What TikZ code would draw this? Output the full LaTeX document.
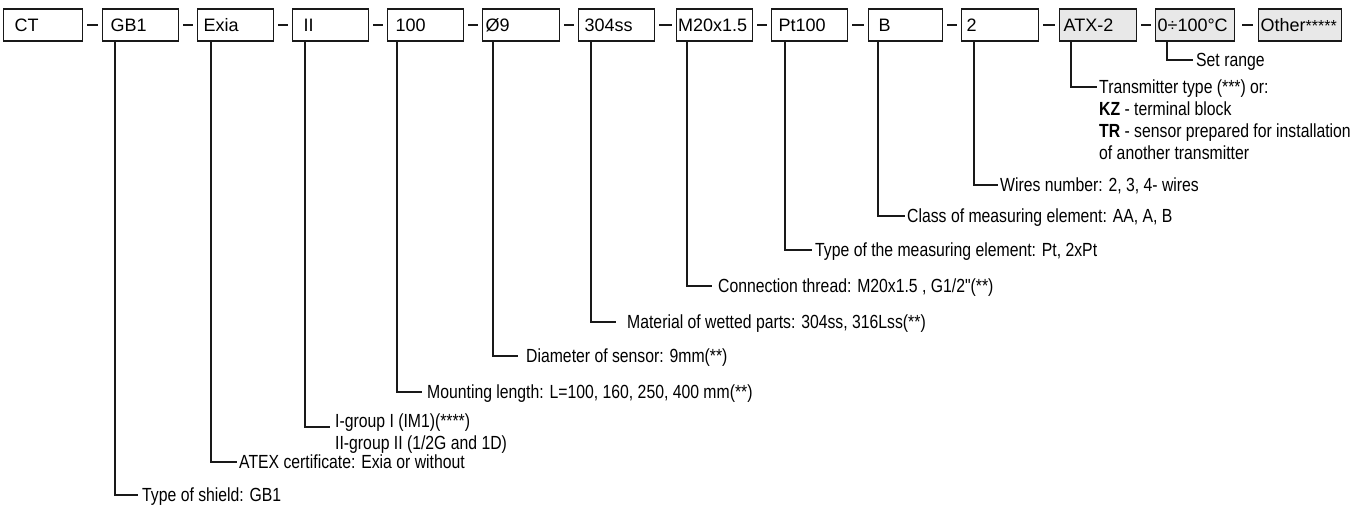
\documentclass[tikz,border=0pt]{standalone}
\usepackage{fontspec}
\setmainfont{Liberation Sans}
\newfontfamily\labfont{Liberation Sans}[FakeStretch=0.83]
\begin{document}
\begin{tikzpicture}[x=1pt,y=-1pt,
  box/.style={draw=black!90, line width=1.2pt, anchor=west, minimum height=32pt,
    inner ysep=0pt, align=left, text height=13.5pt, text depth=0.5pt,
    font=\fontsize{18}{21}\selectfont, text=black},
  gbox/.style={box, fill=black!9},
  pad/.code 2 args={\pgfmathsetmacro\padtw{#1-2*#2}%
    \edef\padnext{\noexpand\tikzset{inner xsep=#2pt,text width=\padtw pt}}\padnext},
  dashc/.style={line width=1.3pt, draw=black!90, shorten <=4pt, shorten >=4pt},
  conn/.style={line width=1.6pt, draw=black!90},
  lab/.style={font=\labfont\fontsize{19}{22}\selectfont, anchor=west, inner ysep=0pt,
    text height=13.5pt, text depth=0.5pt, text=black},
  mlab/.style={font=\labfont\fontsize{19}{22}\selectfont, anchor=north west,
    inner ysep=0pt, align=left, text=black}]
\useasboundingbox (0,0) rectangle (1366,504);

% code boxes
\node[box, pad={79}{11}] (ct) at (3,25) {CT};
\node[box, pad={76}{8}] (gb1) at (102,25) {GB1};
\node[box, pad={76}{6}] (exia) at (197,25) {Exia};
\node[box, pad={76}{11}] (ii) at (292,25) {II};
\node[box, pad={76}{8}] (len) at (387,25) {100};
\node[box, pad={77}{3}] (dia) at (482,25) {Ø9};
\node[box, pad={76}{6}] (mat) at (578,25) {304ss};
\node[box, pad={76}{1.5}] (thr) at (676,25) {M20x1.5};
\node[box, pad={76}{7}] (pt) at (771,25) {Pt100};
\node[box, pad={74}{10}] (cls) at (868,25) {B};
\node[box, pad={77}{5}] (wir) at (961,25) {2};
\node[gbox, pad={77}{4}] (atx) at (1059,25) {ATX-2};
\node[gbox, pad={79}{2}] (rng) at (1155,25) {0÷100°C};
\node[gbox, pad={83}{2}] (oth) at (1258,25) {Other{\fontsize{16}{18}\selectfont*****}};

% dashes between boxes
\draw[dashc] (ct.east) -- (gb1.west);
\draw[dashc] (gb1.east) -- (exia.west);
\draw[dashc] (exia.east) -- (ii.west);
\draw[dashc] (ii.east) -- (len.west);
\draw[dashc] (len.east) -- (dia.west);
\draw[dashc] (dia.east) -- (mat.west);
\draw[dashc] (mat.east) -- (thr.west);
\draw[dashc] (thr.east) -- (pt.west);
\draw[dashc] (pt.east) -- (cls.west);
\draw[dashc] (cls.east) -- (wir.west);
\draw[dashc] (wir.east) -- (atx.west);
\draw[dashc] (atx.east) -- (rng.west);
\draw[dashc, shorten <=7pt, shorten >=5pt] (rng.east) -- (oth.west);

% labels
\node[lab, inner xsep=3pt] (lrng) at (1193,60) {Set range};
\node[mlab, inner xsep=2pt] (latx) at (1097,80) {Transmitter type (***) or:\\\textbf{KZ} - terminal block\\\textbf{TR} - sensor prepared for installation\\of another transmitter};
\node[lab, inner xsep=2pt] (lwir) at (998,185) {Wires number: 2, 3, 4- wires};
\node[lab, inner xsep=2pt] (lcls) at (905,216) {Class of measuring element: AA, A, B};
\node[lab, inner xsep=3pt] (lpt) at (812,250) {Type of the measuring element: Pt, 2xPt};
\node[lab, inner xsep=6pt] (lthr) at (712,286) {Connection thread: M20x1.5 , G1/2"(**)};
\node[lab, inner xsep=11pt] (lmat) at (616,322) {Material of wetted parts: 304ss, 316Lss(**)};
\node[lab, inner xsep=8pt] (ldia) at (518,356) {Diameter of sensor: 9mm(**)};
\node[lab, inner xsep=5pt] (llen) at (422,392) {Mounting length: L=100, 160, 250, 400 mm(**)};
\node[mlab, inner xsep=5pt] (lii) at (330,414) {I-group I (IM1)(****)\\II-group II (1/2G and 1D)};
\node[lab, inner xsep=2pt] (lexia) at (237,462) {ATEX certificate: Exia or without};
\node[lab, inner xsep=4pt] (lgb1) at (138,495) {Type of shield: GB1};

% connectors
\draw[conn] ([xshift=12pt]rng.south west) |- (lrng.west);
\draw[conn] ([xshift=12pt]atx.south west) |- ([yshift=-7pt]latx.north west);
\draw[conn] ([xshift=13pt]wir.south west) |- (lwir.west);
\draw[conn] ([xshift=10pt]cls.south west) |- (lcls.west);
\draw[conn] ([xshift=14pt]pt.south west) |- (lpt.west);
\draw[conn] ([xshift=11pt]thr.south west) |- (lthr.west);
\draw[conn] ([xshift=13pt]mat.south west) |- (lmat.west);
\draw[conn] ([xshift=11pt]dia.south west) |- (ldia.west);
\draw[conn] ([xshift=10pt]len.south west) |- (llen.west);
\draw[conn] ([xshift=13pt]ii.south west) |- ([yshift=-13pt]lii.north west);
\draw[conn] ([xshift=14pt]exia.south west) |- (lexia.west);
\draw[conn] ([xshift=13pt]gb1.south west) |- (lgb1.west);
\end{tikzpicture}
\end{document}
